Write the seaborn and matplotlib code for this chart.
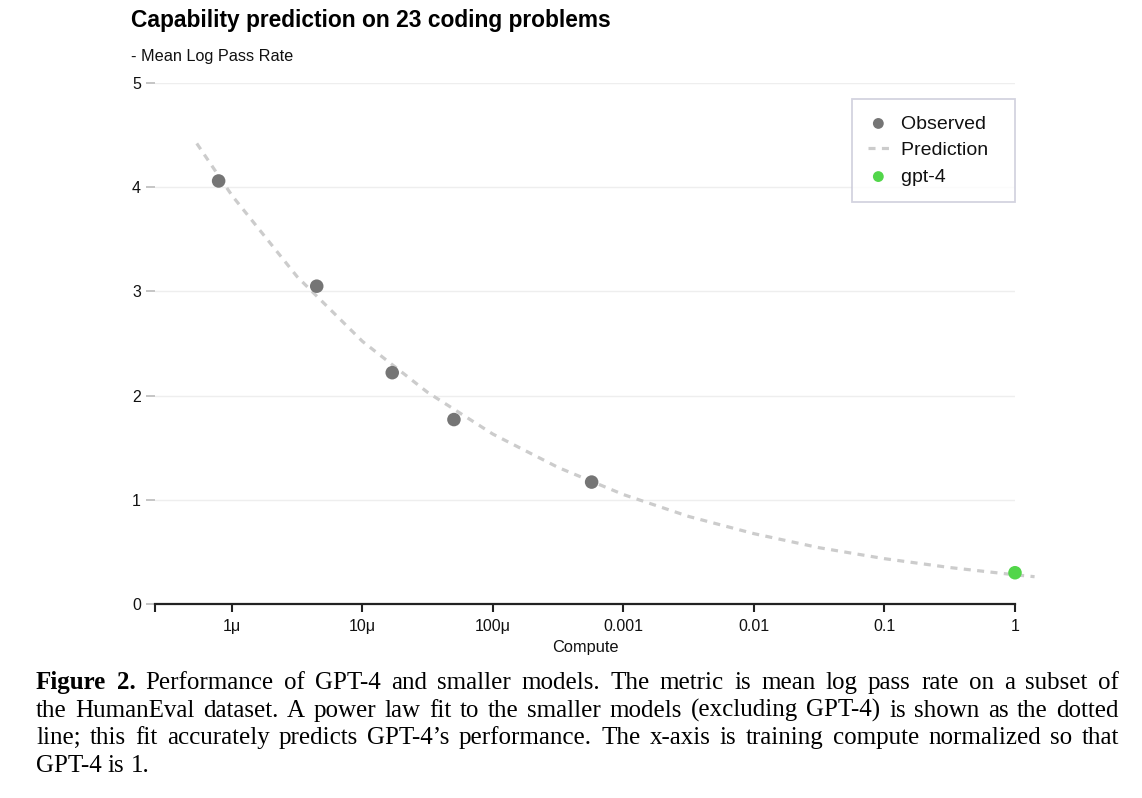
import numpy as np
import pandas as pd
import matplotlib
matplotlib.use('Agg')
import matplotlib.pyplot as plt
import seaborn as sns

# Observed smaller models (compute normalized so GPT-4 = 1)
obs_compute = [7.9e-7, 4.46e-6, 1.69e-5, 5.02e-5, 5.70e-4]
obs_value = [4.06, 3.05, 2.22, 1.77, 1.17]

# GPT-4
gpt4_compute = [1.0]
gpt4_value = [0.30]

# Prediction curve
pred_log_compute = [-6.27, -6.0, -5.5, -5.0, -4.5, -4.0, -3.5, -3.0, -2.5, -2.0, -1.5, -1.0, -0.5, 0.0, 0.15]
pred_value = [4.42, 3.92, 3.14, 2.52, 2.03, 1.63, 1.31, 1.05, 0.84, 0.675, 0.54, 0.435, 0.35, 0.28, 0.262]

xtick_pos = [1e-6, 1e-5, 1e-4, 1e-3, 1e-2, 1e-1, 1]
xtick_labels = ['1μ', '10μ', '100μ', '0.001', '0.01', '0.1', '1']
ytick_pos = [0, 1, 2, 3, 4, 5]

caption_lines = [
    'Figure 2. Performance of GPT-4 and smaller models. The metric is mean log pass rate on a subset of',
    'the HumanEval dataset. A power law fit to the smaller models (excluding GPT-4) is shown as the dotted',
    'line; this fit accurately predicts GPT-4’s performance. The x-axis is training compute normalized so that',
    'GPT-4 is 1.',
]

sns.set_theme(style='white')
plt.rcParams['font.family'] = ['Liberation Sans', 'DejaVu Sans']
plt.rcParams['text.color'] = '#111111'
plt.rcParams['axes.labelcolor'] = '#111111'
plt.rcParams['xtick.labelcolor'] = '#111111'
plt.rcParams['ytick.labelcolor'] = '#111111'

W, H = 1142, 798
fig = plt.figure(figsize=(W / 100, H / 100), dpi=100)
ax = fig.add_axes([155 / W, 1 - 604 / H, (1015 - 155) / W, (604 - 83) / H])

pred = pd.DataFrame({'compute': 10 ** np.array(pred_log_compute), 'value': pred_value})
obs = pd.DataFrame({'compute': obs_compute, 'value': obs_value})
gpt4 = pd.DataFrame({'compute': gpt4_compute, 'value': gpt4_value})

sns.lineplot(data=pred, x='compute', y='value', ax=ax, color='#cccccc', lw=2.3,
             ls=(0, (2.2, 2.0)), sort=False, clip_on=False, label='Prediction', zorder=2)
sns.scatterplot(data=obs, x='compute', y='value', ax=ax, color='#757575', s=95,
                edgecolor='none', label='Observed', zorder=3)
sns.scatterplot(data=gpt4, x='compute', y='value', ax=ax, color='#52d64a', s=95,
                edgecolor='none', label='gpt-4', clip_on=False, zorder=3)

ax.set_xscale('log')
ax.set_xlim(10 ** -6.59, 1)
ax.set_ylim(0, 5)
ax.set_xticks(xtick_pos)
ax.set_xticklabels(xtick_labels)
ax.set_xticks([10 ** -6.59], minor=True)
ax.set_yticks(ytick_pos)
ax.set_yticklabels([str(v) for v in ytick_pos])
ax.set_xlabel('Compute', fontsize=11.8, labelpad=4)
ax.set_ylabel('')

for s in ['top', 'right', 'left']:
    ax.spines[s].set_visible(False)
ax.spines['bottom'].set_color('#222222')
ax.spines['bottom'].set_linewidth(1.6)

ax.tick_params(axis='x', which='both', direction='out', length=6, width=1.5,
               color='#222222', labelsize=11.5, pad=5, bottom=True)
ax.tick_params(axis='x', which='minor', labelbottom=False)
ax.tick_params(axis='y', direction='out', length=6.5, width=1.2, color='#bbbbbb',
               labelsize=11.5, pad=3.5, left=True)
ax.yaxis.grid(True, color='#eeeeee', lw=1)
ax.xaxis.grid(False)

handles, labels = ax.get_legend_handles_labels()
order = [labels.index(n) for n in ['Observed', 'Prediction', 'gpt-4']]
# trailing spaces give the wider right padding of the reference box
leg = ax.legend([handles[i] for i in order], [labels[i] + '  ' for i in order],
                loc='upper right', bbox_to_anchor=(1.0, (604 - 99) / 521), borderaxespad=0,
                fontsize=14, frameon=True, fancybox=False, markerscale=0.8,
                handlelength=1.05, handletextpad=0.65, labelspacing=0.46, borderpad=0.82)
leg.get_frame().set_edgecolor('#c8c8d8')
leg.get_frame().set_linewidth(1.3)

fig.text(131 / W, 1 - 27 / H, 'Capability prediction on 23 coding problems',
         fontsize=16.4, weight='bold', va='baseline', ha='left', color='black')
fig.text(131 / W, 1 - 61 / H, '- Mean Log Pass Rate', fontsize=11.7, va='baseline', ha='left')

# justified caption below the chart
renderer = fig.canvas.get_renderer()
x0, x1 = 36, 1119
baselines = [689, 717, 744, 772]
for li, (line, yb) in enumerate(zip(caption_lines, baselines)):
    words = line.split(' ')
    texts = []
    for wi, w in enumerate(words):
        bold = li == 0 and wi < 2
        t = fig.text(0, 1 - yb / H, w, fontsize=18, family=['Liberation Serif', 'DejaVu Serif'],
                     weight='bold' if bold else 'normal', va='baseline', ha='left', color='black')
        texts.append(t)
    widths = [t.get_window_extent(renderer).width for t in texts]
    if li < len(caption_lines) - 1:
        gap = (x1 - x0 - sum(widths)) / (len(words) - 1)
    else:
        gap = 6.2
    x = x0
    for t, w in zip(texts, widths):
        t.set_x(x / W)
        x += w + gap

fig.savefig('out.png', dpi=100)
